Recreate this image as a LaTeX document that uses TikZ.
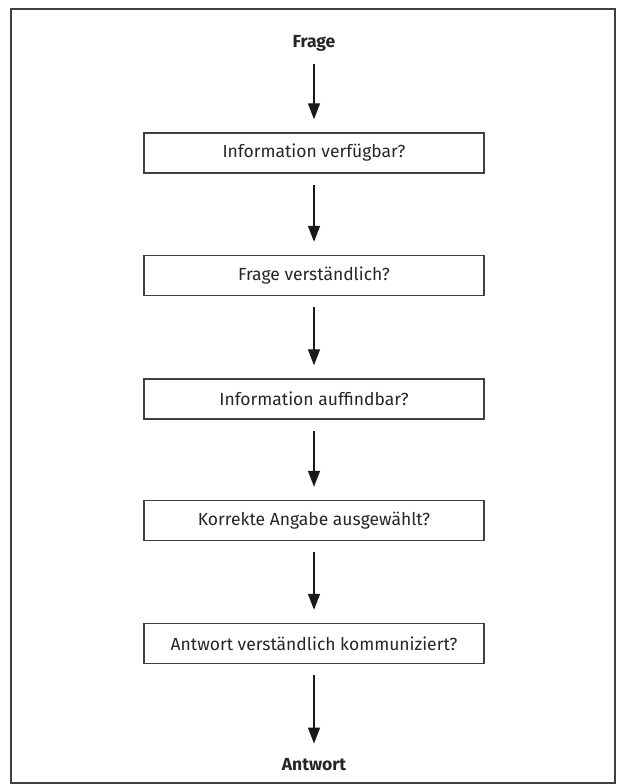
\documentclass[tikz,border=0pt]{standalone}
\usepackage{fontspec}
\setmainfont{Fira Sans}
\usetikzlibrary{arrows.meta}
\tikzset{
  x=1pt, y=-1pt,
  qbox/.style={draw=black!75, line width=1.4pt, minimum width=340pt, minimum height=40pt, inner sep=0pt, font=\fontsize{17.5}{20}\selectfont, text=black!85},
  endlabel/.style={font=\fontsize{17.5}{20}\selectfont\bfseries, text=black!85, inner sep=2pt},
  flowarrow/.style={draw=black!90, line width=1.3pt, -{Triangle[length=16pt,width=12pt]}, shorten <=11pt, shorten >=13pt},
  framestyle/.style={draw=black!75, line width=1.5pt},
}
\begin{document}
\begin{tikzpicture}
\useasboundingbox (0,0) rectangle (616,784);
\coordinate (ftl) at (11,9);
\coordinate (fbr) at (615,783);
\draw[framestyle] (ftl) rectangle (fbr);
\node[endlabel] (frage) at (314,43) {Frage};
\node[qbox] (b1) at (314,153) {Information verfügbar?};
\node[qbox] (b2) at (314,275.5) {Frage verständlich?};
\node[qbox] (b3) at (314,399) {Information auffindbar?};
\node[qbox] (b4) at (314,520.5) {Korrekte Angabe ausgewählt?};
\node[qbox] (b5) at (314,643.5) {Antwort verständlich kommuniziert?};
\node[endlabel] (antwort) at (314,765) {Antwort};
\draw[flowarrow] (frage) -- (b1);
\draw[flowarrow] (b1) -- (b2);
\draw[flowarrow] (b2) -- (b3);
\draw[flowarrow] (b3) -- (b4);
\draw[flowarrow] (b4) -- (b5);
\draw[flowarrow] (b5) -- (antwort);
\end{tikzpicture}
\end{document}
